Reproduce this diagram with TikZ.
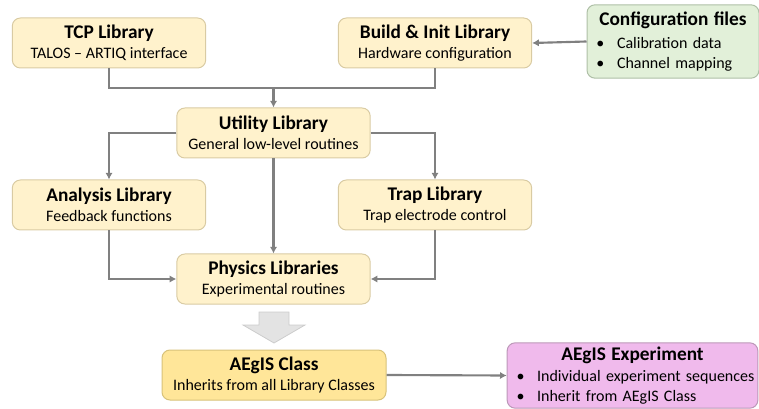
\documentclass[tikz,border=0pt]{standalone}
\usepackage{fontspec}
\setmainfont{Carlito}
\usetikzlibrary{arrows.meta}
\definecolor{libfill}{HTML}{FFF2CC}
\definecolor{libdraw}{HTML}{D9CBA3}
\definecolor{clsfill}{HTML}{FFE699}
\definecolor{clsdraw}{HTML}{D8C27A}
\definecolor{cfgfill}{HTML}{E2F0D9}
\definecolor{cfgdraw}{HTML}{AEBFA6}
\definecolor{expfill}{HTML}{F0BAEC}
\definecolor{expdraw}{HTML}{BC98B8}
\definecolor{conngray}{HTML}{808080}
\newcommand{\boxtitle}[1]{{\fontsize{14.5}{15}\selectfont\bfseries #1}}
\newcommand{\bulletline}[1]{\makebox[\linewidth][l]{\makebox[15.5pt][l]{\textbullet}#1}}
\begin{document}
\begin{tikzpicture}[x=0.75pt,y=-0.75pt,
			box/.style = {rectangle, rounded corners=6pt, draw, line width=0.75pt, align=center,
				font=\fontsize{12}{15}\selectfont, inner sep=0pt},
			lib/.style = {box, fill=libfill, draw=libdraw, minimum width=145pt, minimum height=37.5pt},
			cls/.style = {box, fill=clsfill, draw=clsdraw, minimum width=168pt, minimum height=37.5pt},
			cfg/.style = {box, fill=cfgfill, draw=cfgdraw, align=left, text width=115pt,
				inner xsep=7pt, minimum height=55pt},
			expt/.style = {box, fill=expfill, draw=expdraw, align=left, text width=174pt,
				inner xsep=7pt, minimum height=49pt},
			conn/.style = {draw=conngray, line width=1.6pt},
			arr/.style = {conn, -{Latex[length=5pt,width=5.5pt]}},
			bigarrow/.style = {fill=gray!22, draw=gray!40, line width=0.6pt}]
			
			\useasboundingbox (0,0) rectangle (759,409);
			
			% library boxes
			\node[lib] (tcp) at (109,43) {\boxtitle{TCP Library}\\TALOS -- ARTIQ interface};
			\node[lib] (build) at (435,43) {\boxtitle{Build \& Init Library}\\Hardware configuration};
			\node[cfg] (config) at (673,41.5) {\makebox[\linewidth]{\boxtitle{Configuration files}}\\[2pt]
				\bulletline{Calibration data}\\ \bulletline{Channel mapping}};
			\node[lib] (util) at (273.5,133) {\boxtitle{Utility Library}\\General low-level routines};
			\node[lib] (analysis) at (109,205) {\boxtitle{Analysis Library}\\Feedback functions};
			\node[lib] (trap) at (435,205) {\boxtitle{Trap Library}\\Trap electrode control};
			\node[lib] (phys) at (273.5,279) {\boxtitle{Physics Libraries}\\Experimental routines};
			\node[cls] (class) at (274,375) {\boxtitle{AEgIS Class}\\Inherits from all Library Classes};
			\node[expt] (exp) at (632.5,375.5) {\makebox[\linewidth]{\boxtitle{AEgIS Experiment}}\\[1pt]
				\bulletline{Individual experiment sequences}\\ \bulletline{Inherit from AEgIS Class}};
			
			% connectors
			\coordinate (join) at (273.5,88);
			\draw[conn] (tcp.south) |- (join) -| (build.south);
			\draw[arr] (join) -- (util.north);
			\draw[arr] (config.west) -- (build.east);
			\draw[arr] (util.west) -| (analysis.north);
			\draw[arr] (util.east) -| (trap.north);
			\draw[arr] (util.south) -- (phys.north);
			\draw[arr] (analysis.south) |- (phys.west);
			\draw[arr] (trap.south) |- (phys.east);
			\draw[arr] (class.east) -- (exp.west);
			
			% big arrow from physics to class
			\draw[bigarrow] (259,312) -- (289,312) -- (289,325) -- (305,325) -- (274,343)
				-- (243,325) -- (259,325) -- cycle;
\end{tikzpicture}
\end{document}
